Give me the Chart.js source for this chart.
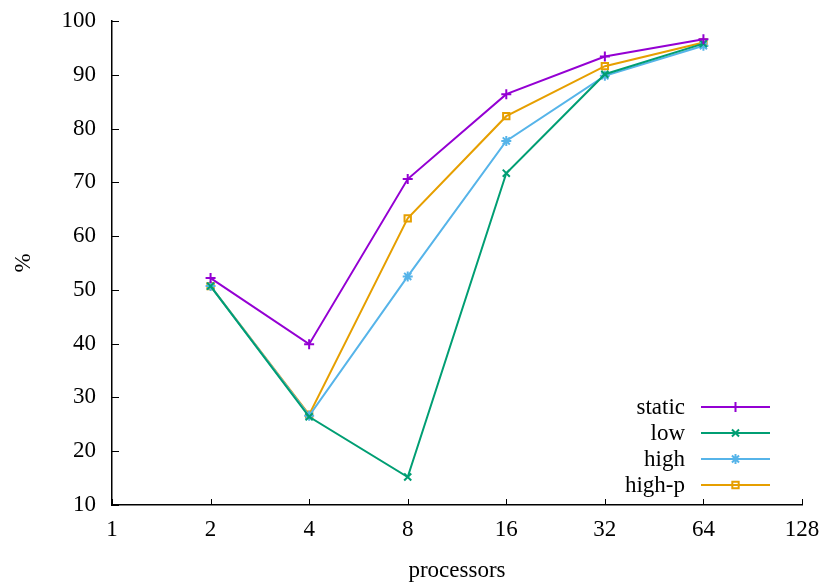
<!DOCTYPE html>
<html>
<head>
<meta charset="utf-8">
<script src="https://cdn.jsdelivr.net/npm/chart.js@4/dist/chart.umd.min.js"></script>
<style>
  html, body { margin: 0; padding: 0; background: #fff; }
  #wrap { width: 822px; height: 582px; }
</style>
</head>
<body>
<div id="wrap"><canvas id="efficiency"></canvas></div>
<script>
// processors on a log2 axis, efficiency in percent
const procs = [2, 4, 8, 16, 32, 64];
const staticPct = [52.2, 39.9, 70.6, 86.4, 93.4, 96.6];
const lowPct    = [50.7, 26.4, 15.2, 71.7, 90.1, 95.8];
const highPct   = [50.7, 26.6, 52.5, 77.7, 89.8, 95.4];
const highPPct  = [50.7, 26.8, 63.3, 82.3, 91.6, 96.0];
const xTicks = [1, 2, 4, 8, 16, 32, 64, 128];
const yTicks = [10, 20, 30, 40, 50, 60, 70, 80, 90, 100];

const serif = "'Liberation Serif', 'DejaVu Serif', serif";
const fontSize = 23;

function series(label, values, color, style) {
    return {
        label: label,
        data: procs.map((p, i) => ({ x: p, y: values[i] })),
        borderColor: color,
        backgroundColor: 'transparent',
        pointBorderColor: color,
        pointBackgroundColor: 'transparent',
        pointStyle: style,
        pointRadius: style === 'rect' ? 4.5 : 5,
        pointBorderWidth: 2,
        borderWidth: 2,
        tension: 0
    };
}

// gnuplot-like inward tick marks
const innerTicks = {
    id: 'innerTicks',
    afterDraw(chart) {
        const ctx = chart.ctx;
        const a = chart.chartArea;
        const x = chart.scales.x, y = chart.scales.y;
        ctx.save();
        ctx.strokeStyle = '#000';
        ctx.lineWidth = 1;
        xTicks.forEach(v => {
            const px = Math.round(x.getPixelForValue(v)) + 0.5;
            ctx.beginPath();
            ctx.moveTo(px, a.bottom);
            ctx.lineTo(px, a.bottom - 6);
            ctx.stroke();
        });
        yTicks.forEach(v => {
            const py = Math.round(y.getPixelForValue(v)) + 0.5;
            ctx.beginPath();
            ctx.moveTo(a.left, py);
            ctx.lineTo(a.left + 7, py);
            ctx.stroke();
        });
        ctx.restore();
    }
};

// key in the lower right: right-aligned labels with a line sample
const keyBox = {
    id: 'keyBox',
    afterDraw(chart) {
        const ctx = chart.ctx;
        const textRight = 685, x0 = 701, x1 = 770;
        ctx.save();
        ctx.font = fontSize + 'px ' + serif;
        ctx.textAlign = 'right';
        ctx.textBaseline = 'middle';
        chart.data.datasets.forEach((ds, i) => {
            const yy = 407 + i * 26;
            ctx.fillStyle = '#000';
            ctx.fillText(ds.label, textRight, yy + 1);
            ctx.strokeStyle = ds.borderColor;
            ctx.lineWidth = ds.borderWidth;
            ctx.beginPath();
            ctx.moveTo(x0, yy);
            ctx.lineTo(x1, yy);
            ctx.stroke();
            ctx.fillStyle = 'rgba(0,0,0,0)';
            Chart.helpers.drawPoint(ctx, {
                pointStyle: ds.pointStyle,
                radius: ds.pointRadius,
                rotation: 0,
                borderWidth: ds.pointBorderWidth
            }, (x0 + x1) / 2, yy);
        });
        ctx.restore();
    }
};

new Chart(document.getElementById('efficiency'), {
    type: 'line',
    data: {
        datasets: [
            series('static', staticPct, '#9400d3', 'cross'),
            series('low', lowPct, '#009e73', 'crossRot'),
            series('high', highPct, '#56b4e9', 'star'),
            series('high-p', highPPct, '#e69f00', 'rect')
        ]
    },
    options: {
        responsive: true,
        maintainAspectRatio: false,
        animation: false,
        layout: { padding: { top: 21, right: 20, left: 0, bottom: 0 } },
        plugins: {
            legend: { display: false },
            tooltip: { enabled: false }
        },
        scales: {
            x: {
                type: 'logarithmic',
                min: 1,
                max: 128,
                afterBuildTicks(scale) {
                    scale.ticks = xTicks.map(v => ({ value: v }));
                },
                afterFit(scale) {
                    scale.height = 77;
                    scale.paddingLeft = 0;
                    scale.paddingRight = 0;
                },
                grid: { display: false, drawTicks: false },
                border: { display: true, color: '#000', width: 1.5 },
                ticks: {
                    autoSkip: false,
                    maxRotation: 0,
                    padding: 11,
                    color: '#000',
                    font: { family: serif, size: fontSize },
                    callback: v => String(v)
                },
                title: {
                    display: true,
                    text: 'processors',
                    color: '#000',
                    font: { family: serif, size: fontSize },
                    padding: { top: 0, bottom: -3 }
                }
            },
            y: {
                min: 10,
                max: 100,
                afterBuildTicks(scale) {
                    scale.ticks = yTicks.map(v => ({ value: v }));
                },
                afterFit(scale) {
                    scale.width = 112;
                    scale.paddingTop = 0;
                    scale.paddingBottom = 0;
                },
                grid: { display: false, drawTicks: false },
                border: { display: true, color: '#000', width: 1.5 },
                ticks: {
                    padding: 16,
                    color: '#000',
                    font: { family: serif, size: fontSize }
                },
                title: {
                    display: true,
                    text: '%',
                    color: '#000',
                    font: { family: serif, size: fontSize },
                    padding: 10
                }
            }
        }
    },
    plugins: [innerTicks, keyBox]
});
</script>
</body>
</html>
